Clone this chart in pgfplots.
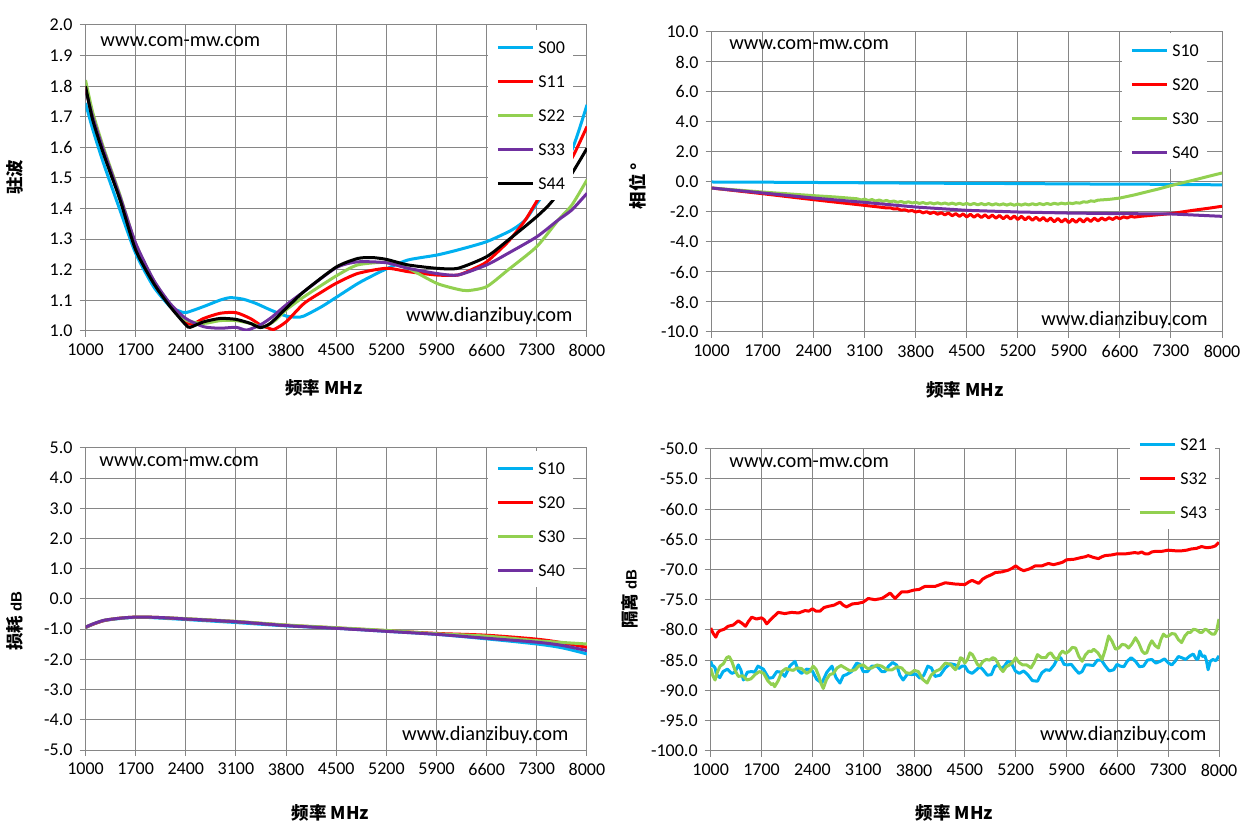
\documentclass[border=0pt]{standalone}
\usepackage{pgfplots}
\pgfplotsset{compat=1.18}
\usepackage{fontspec}
\setmainfont{Carlito}
\newfontfamily\cjk{Noto Sans CJK SC}
\newfontfamily\arl{Liberation Sans}
\definecolor{c1}{HTML}{00B0F0}
\definecolor{c2}{HTML}{FF0000}
\definecolor{c3}{HTML}{92D050}
\definecolor{c4}{HTML}{7030A0}
\definecolor{gridc}{HTML}{868686}
\newcommand{\wm}{\fontsize{10.2}{12}\selectfont}
\pgfplotsset{
  exc/.style={
    scale only axis,
    xmin=1000, xmax=8000,
    xtick={1000,1700,2400,3100,3800,4500,5200,5900,6600,7300,8000},
    grid=major,
    major grid style={draw=gridc, line width=0.5pt},
    axis line style={draw=gridc, line width=0.5pt},
    tick style={draw=gridc, line width=0.5pt},
    tick align=outside,
    major tick length=3pt,
    xtick pos=left, ytick pos=left,
    /pgf/number format/assume math mode=true,
    ticklabel style={font=\fontsize{9}{10}\selectfont, text=black},
    xticklabel style={/pgf/number format/1000 sep={}},
    yticklabel style={/pgf/number format/.cd, fixed, fixed zerofill, precision=1},
    legend cell align=left,
    legend style={draw=none, fill=white, inner xsep=4pt, inner ysep=0pt, row sep=0pt, column sep=2pt,
      font=\fontsize{9}{10}\selectfont, nodes={inner sep=0pt, text height=6pt, text depth=0pt, minimum height=17pt},
      anchor=north west},
    legend image code/.code={\draw[##1] (0pt,0pt) -- (17.5pt,0pt);},
    every axis plot/.append style={line width=1.5pt, mark=none, line join=round},
    xlabel style={font=\cjk\bfseries\fontsize{8.75}{10}\selectfont, anchor=center},
    ylabel style={font=\cjk\bfseries\fontsize{8.75}{10}\selectfont, anchor=center},
  }
}
\begin{document}
\begin{tikzpicture}
\path[use as bounding box] (0,0) rectangle (628.5pt,417.5pt);

% ---------------- top left: VSWR
\begin{axis}[exc,
  at={(42.75pt,405pt)}, anchor=north west,
  width=250.75pt, height=153pt,
  ymin=1, ymax=2,
  ytick={1.0,1.1,1.2,1.3,1.4,1.5,1.6,1.7,1.8,1.9,2.0},
  xlabel={频率 MHz}, xlabel style={at={(axis description cs:0.4756,-0.186)}},
  ylabel={驻波}, ylabel style={at={(axis description cs:-0.14,0.503)}},
  legend style={at={(axis description cs:0.8026,0.9837)}},
]
\addplot[c1, smooth, tension=0.4] coordinates {(1000,1.745) (1100,1.66) (1250,1.549) (1480,1.396) (1700,1.254) (1950,1.145) (2180,1.08) (2300,1.066) (2400,1.06) (2650,1.08) (2880,1.101) (3020,1.109) (3200,1.104) (3380,1.09) (3580,1.069) (3800,1.049) (3950,1.045) (4050,1.049) (4300,1.08) (4500,1.11) (4800,1.155) (5000,1.18) (5200,1.203) (5500,1.232) (5900,1.248) (6200,1.265) (6600,1.292) (6950,1.33) (7140,1.363) (7300,1.417) (7500,1.48) (7790,1.592) (8000,1.739)};
\addlegendentry{S00}
\addplot[c2, smooth, tension=0.4] coordinates {(1000,1.80) (1100,1.70) (1250,1.585) (1480,1.435) (1700,1.27) (1950,1.16) (2180,1.085) (2400,1.027) (2510,1.024) (2650,1.041) (2880,1.058) (3100,1.06) (3300,1.041) (3440,1.02) (3550,1.01) (3630,1.005) (3800,1.03) (4050,1.09) (4300,1.128) (4500,1.156) (4800,1.188) (5200,1.205) (5500,1.194) (5900,1.183) (6200,1.183) (6430,1.205) (6600,1.226) (6900,1.292) (7140,1.363) (7370,1.45) (7600,1.51) (7790,1.565) (8000,1.668)};
\addlegendentry{S11}
\addplot[c3, smooth, tension=0.4] coordinates {(1000,1.82) (1100,1.715) (1250,1.60) (1480,1.445) (1700,1.285) (1950,1.165) (2180,1.088) (2400,1.036) (2650,1.025) (2880,1.034) (3100,1.034) (3300,1.025) (3490,1.014) (3650,1.035) (3800,1.069) (4050,1.112) (4500,1.18) (4800,1.216) (5200,1.224) (5500,1.205) (5900,1.156) (6200,1.136) (6340,1.132) (6600,1.145) (6900,1.2) (7300,1.276) (7600,1.363) (7790,1.412) (8000,1.494)};
\addlegendentry{S22}
\addplot[c4, smooth, tension=0.4] coordinates {(1000,1.79) (1100,1.70) (1250,1.592) (1480,1.44) (1700,1.287) (1950,1.167) (2180,1.09) (2400,1.041) (2650,1.014) (2880,1.009) (3100,1.012) (3250,1.003) (3440,1.02) (3600,1.045) (3800,1.085) (4050,1.129) (4500,1.207) (4800,1.226) (5200,1.223) (5500,1.205) (5900,1.188) (6200,1.183) (6600,1.216) (6900,1.254) (7300,1.308) (7600,1.363) (7790,1.396) (8000,1.45)};
\addlegendentry{S33}
\addplot[black, smooth, tension=0.4] coordinates {(1000,1.80) (1100,1.69) (1250,1.58) (1480,1.43) (1700,1.265) (1950,1.156) (2180,1.08) (2400,1.02) (2460,1.012) (2650,1.03) (2880,1.041) (3100,1.038) (3300,1.025) (3440,1.011) (3580,1.025) (3800,1.074) (4050,1.129) (4500,1.209) (4800,1.237) (5000,1.24) (5200,1.234) (5500,1.216) (5900,1.205) (6200,1.205) (6600,1.243) (6900,1.297) (7300,1.374) (7510,1.423) (7790,1.515) (8000,1.597)};
\addlegendentry{S44}
\node[anchor=west, font=\wm, inner sep=0pt] at (axis description cs:0.029,0.944) {www.com-mw.com};
\node[anchor=east, font=\wm, inner sep=0pt] at (axis description cs:0.972,0.049) {www.dianzibuy.com};
\end{axis}

% ---------------- top right: phase
\begin{axis}[exc,
  at={(355.75pt,401.5pt)}, anchor=north west,
  width=255.25pt, height=150pt,
  ymin=-10, ymax=10,
  ytick={-10,-8,-6,-4,-2,0,2,4,6,8,10},
  xlabel={频率 MHz}, xlabel style={at={(axis description cs:0.4966,-0.193)}},
  ylabel={相位 °}, ylabel style={at={(axis description cs:-0.144,0.487)}},
  legend style={at={(axis description cs:0.804,0.997)}},
]
\addplot[c1] coordinates {(1000,0.0) (2000,-0.02) (3000,-0.05) (4000,-0.08) (5000,-0.1) (6000,-0.13) (7000,-0.15) (8000,-0.19)};
\addlegendentry{S10}
\addplot[c2] coordinates {(1000,-0.40) (1700,-0.78) (2400,-1.18) (3100,-1.56) (3300,-1.67) (3400,-1.73) (3450,-1.72) (3500,-1.80) (3550,-1.78) (3600,-1.88) (3650,-1.85) (3700,-1.94) (3750,-1.90) (3800,-2.00) (3850,-1.94) (3900,-2.06) (3950,-1.98) (4000,-2.10) (4050,-2.01) (4100,-2.15) (4150,-2.05) (4200,-2.19) (4250,-2.07) (4300,-2.25) (4350,-2.11) (4400,-2.29) (4450,-2.13) (4500,-2.33) (4550,-2.15) (4600,-2.35) (4650,-2.17) (4700,-2.37) (4750,-2.19) (4800,-2.39) (4850,-2.21) (4900,-2.41) (4950,-2.23) (5000,-2.45) (5050,-2.25) (5100,-2.47) (5150,-2.27) (5200,-2.50) (5250,-2.29) (5300,-2.52) (5350,-2.32) (5400,-2.55) (5450,-2.35) (5500,-2.57) (5550,-2.37) (5600,-2.61) (5650,-2.40) (5700,-2.65) (5750,-2.43) (5800,-2.67) (5850,-2.47) (5900,-2.71) (5950,-2.49) (6000,-2.69) (6050,-2.45) (6100,-2.67) (6150,-2.43) (6200,-2.63) (6250,-2.41) (6300,-2.59) (6350,-2.40) (6400,-2.54) (6450,-2.38) (6500,-2.50) (6550,-2.35) (6600,-2.45) (6650,-2.32) (6700,-2.40) (6750,-2.29) (6800,-2.34) (6900,-2.28) (7000,-2.24) (7150,-2.17) (7300,-2.11) (7450,-2.00) (7600,-1.89) (7800,-1.76) (8000,-1.62)};
\addlegendentry{S20}
\addplot[c3] coordinates {(1000,-0.40) (1700,-0.67) (2400,-0.91) (2700,-1.00) (3000,-1.12) (3050,-1.20) (3100,-1.14) (3150,-1.24) (3200,-1.17) (3250,-1.27) (3300,-1.20) (3350,-1.29) (3400,-1.23) (3450,-1.32) (3500,-1.27) (3550,-1.35) (3600,-1.30) (3650,-1.38) (3700,-1.32) (3750,-1.40) (3800,-1.35) (3850,-1.43) (3900,-1.37) (3950,-1.45) (4000,-1.38) (4050,-1.46) (4100,-1.39) (4150,-1.47) (4200,-1.40) (4250,-1.48) (4300,-1.41) (4350,-1.49) (4400,-1.42) (4450,-1.50) (4500,-1.43) (4550,-1.51) (4600,-1.43) (4650,-1.52) (4700,-1.44) (4750,-1.52) (4800,-1.44) (4850,-1.53) (4900,-1.45) (4950,-1.53) (5000,-1.46) (5050,-1.54) (5100,-1.46) (5150,-1.55) (5200,-1.47) (5250,-1.54) (5300,-1.46) (5350,-1.53) (5400,-1.45) (5450,-1.52) (5500,-1.44) (5550,-1.51) (5600,-1.43) (5650,-1.50) (5700,-1.42) (5750,-1.48) (5800,-1.41) (5850,-1.46) (5900,-1.40) (5950,-1.44) (6000,-1.38) (6050,-1.41) (6100,-1.32) (6150,-1.35) (6200,-1.26) (6250,-1.29) (6300,-1.21) (6450,-1.16) (6600,-1.07) (6800,-0.86) (7000,-0.62) (7150,-0.44) (7300,-0.24) (7450,-0.06) (7600,0.11) (7800,0.36) (8000,0.60)};
\addlegendentry{S30}
\addplot[c4] coordinates {(1000,-0.40) (1700,-0.73) (2400,-1.07) (3100,-1.36) (3800,-1.67) (4500,-1.89) (5200,-2.00) (5900,-2.07) (6600,-2.11) (7300,-2.13) (8000,-2.29)};
\addlegendentry{S40}
\node[anchor=west, font=\wm, inner sep=0pt] at (axis description cs:0.034,0.959) {www.com-mw.com};
\node[anchor=east, font=\wm, inner sep=0pt] at (axis description cs:0.9726,0.04) {www.dianzibuy.com};
\end{axis}

% ---------------- bottom left: loss
\begin{axis}[exc,
  at={(42.75pt,193.5pt)}, anchor=north west,
  width=250.75pt, height=151pt,
  ymin=-5, ymax=5,
  ytick={-5,-4,-3,-2,-1,0,1,2,3,4,5},
  xlabel={频率 MHz}, xlabel style={at={(axis description cs:0.4885,-0.2086)}},
  ylabel={损耗 {\arl\bfseries\fontsize{7.5}{9}\selectfont dB}}, ylabel style={at={(axis description cs:-0.1406,0.427)}},
  legend style={at={(axis description cs:0.8026,0.990)}},
]
\addplot[c1, smooth] coordinates {(1000,-0.95) (1110,-0.83) (1250,-0.72) (1390,-0.67) (1550,-0.63) (1700,-0.61) (1860,-0.61) (2100,-0.64) (2400,-0.68) (3100,-0.78) (3800,-0.89) (4500,-0.97) (5200,-1.07) (5900,-1.17) (6600,-1.32) (7300,-1.49) (7660,-1.62) (8000,-1.82)};
\addlegendentry{S10}
\addplot[c2, smooth] coordinates {(1000,-0.94) (1110,-0.83) (1250,-0.72) (1390,-0.66) (1550,-0.62) (1700,-0.60) (1860,-0.60) (2100,-0.62) (2400,-0.66) (3100,-0.75) (3800,-0.87) (4500,-0.96) (5200,-1.05) (5900,-1.14) (6600,-1.20) (7300,-1.33) (7660,-1.45) (8000,-1.60)};
\addlegendentry{S20}
\addplot[c3, smooth] coordinates {(1000,-0.93) (1110,-0.82) (1250,-0.71) (1390,-0.66) (1550,-0.62) (1700,-0.60) (1860,-0.60) (2100,-0.62) (2400,-0.65) (3100,-0.74) (3800,-0.86) (4500,-0.95) (5200,-1.04) (5900,-1.15) (6600,-1.23) (7300,-1.38) (7660,-1.44) (8000,-1.49)};
\addlegendentry{S30}
\addplot[c4, smooth] coordinates {(1000,-0.93) (1110,-0.82) (1250,-0.71) (1390,-0.66) (1550,-0.62) (1700,-0.60) (1860,-0.60) (2100,-0.62) (2400,-0.66) (3100,-0.75) (3800,-0.88) (4500,-0.97) (5200,-1.07) (5900,-1.17) (6600,-1.30) (7300,-1.43) (7660,-1.54) (8000,-1.71)};
\addlegendentry{S40}
\node[anchor=west, font=\wm, inner sep=0pt] at (axis description cs:0.027,0.955) {www.com-mw.com};
\node[anchor=east, font=\wm, inner sep=0pt] at (axis description cs:0.964,0.05) {www.dianzibuy.com};
\end{axis}

% ---------------- bottom right: isolation
\begin{axis}[exc,
  at={(355.35pt,193.15pt)}, anchor=north west,
  width=254.15pt, height=151pt,
  ymin=-100, ymax=-50,
  ytick={-100,-95,-90,-85,-80,-75,-70,-65,-60,-55,-50},
  xlabel={频率 MHz}, xlabel style={at={(axis description cs:0.4796,-0.206)}},
  ylabel={隔离 {\arl\bfseries\fontsize{7.5}{9}\selectfont dB}}, ylabel style={at={(axis description cs:-0.159,0.502)}},
  legend style={at={(axis description cs:0.825,1.072)}},
]
\addplot[c1] coordinates {(1000,-85.2) (1020,-85.9) (1040,-86.0) (1060,-86.3) (1080,-87.4) (1125,-87.9) (1170,-86.9) (1230,-86.5) (1290,-87.2) (1335,-87.0) (1380,-85.8) (1415,-86.6) (1450,-88.3) (1505,-87.0) (1560,-86.9) (1605,-87.0) (1650,-86.0) (1725,-86.5) (1800,-88.0) (1855,-87.9) (1910,-86.9) (1965,-87.0) (2020,-87.7) (2090,-86.0) (2160,-85.2) (2205,-86.7) (2250,-87.2) (2320,-86.5) (2390,-86.6) (2460,-88.2) (2530,-88.8) (2600,-87.0) (2670,-86.0) (2725,-87.9) (2780,-88.8) (2825,-87.6) (2870,-87.4) (2940,-86.9) (3010,-85.5) (3055,-85.7) (3100,-86.9) (3160,-86.9) (3220,-86.0) (3290,-86.0) (3355,-86.9) (3400,-86.9) (3450,-86.0) (3505,-85.4) (3560,-85.8) (3605,-87.5) (3650,-88.3) (3710,-87.3) (3770,-87.4) (3825,-87.3) (3880,-88.0) (3935,-87.5) (3990,-86.0) (4040,-86.3) (4090,-87.7) (4160,-87.5) (4230,-86.3) (4300,-85.6) (4370,-85.8) (4415,-86.4) (4460,-86.0) (4500,-86.0) (4545,-86.9) (4600,-87.2) (4660,-86.6) (4705,-86.1) (4750,-86.6) (4810,-87.5) (4865,-87.4) (4910,-86.1) (4955,-85.8) (5000,-86.4) (5045,-86.0) (5090,-85.2) (5140,-85.5) (5195,-86.8) (5250,-87.2) (5310,-86.8) (5365,-87.4) (5430,-88.4) (5500,-88.5) (5560,-87.1) (5615,-86.6) (5670,-86.7) (5730,-85.8) (5775,-84.7) (5820,-84.6) (5865,-85.7) (5910,-85.8) (5965,-85.7) (6025,-86.6) (6070,-87.2) (6115,-86.9) (6160,-85.8) (6210,-85.8) (6270,-85.9) (6325,-85.0) (6380,-85.0) (6435,-86.0) (6490,-86.8) (6550,-86.6) (6595,-85.7) (6640,-86.0) (6690,-86.1) (6735,-85.2) (6790,-84.6) (6850,-85.2) (6905,-86.1) (6960,-86.0) (7015,-85.0) (7075,-84.9) (7130,-85.5) (7190,-85.2) (7250,-84.8) (7305,-85.5) (7350,-85.8) (7395,-85.2) (7440,-84.4) (7485,-84.6) (7540,-84.9) (7600,-84.3) (7645,-84.0) (7690,-84.9) (7712,-84.8) (7735,-83.5) (7770,-84.4) (7805,-84.3) (7827,-85.1) (7850,-86.6) (7880,-85.2) (7915,-84.9) (7957,-85.1) (8000,-84.3)};
\addlegendentry{S21}
\addplot[c2] coordinates {(1000,-79.7) (1035,-80.6) (1070,-81.2) (1100,-80.4) (1130,-80.1) (1185,-79.9) (1240,-79.4) (1310,-79.2) (1380,-78.5) (1430,-78.9) (1480,-79.4) (1520,-78.6) (1565,-77.9) (1630,-78.2) (1700,-78.0) (1735,-78.3) (1770,-79.0) (1850,-78.0) (1930,-77.1) (2020,-77.3) (2115,-77.1) (2210,-77.2) (2300,-76.8) (2350,-76.9) (2400,-76.5) (2450,-76.9) (2505,-76.9) (2560,-76.3) (2620,-76.1) (2700,-75.9) (2780,-75.4) (2825,-75.9) (2870,-76.2) (2950,-75.7) (3030,-75.6) (3100,-75.4) (3170,-74.8) (3260,-75.0) (3355,-74.8) (3410,-74.4) (3470,-73.9) (3540,-74.8) (3630,-73.7) (3710,-73.7) (3800,-73.4) (3870,-73.3) (3950,-72.8) (4090,-72.8) (4230,-72.2) (4360,-72.4) (4500,-72.5) (4550,-72.1) (4600,-71.8) (4690,-72.3) (4745,-71.6) (4800,-71.2) (4860,-70.9) (4920,-70.5) (5010,-70.4) (5100,-70.1) (5150,-69.8) (5200,-69.4) (5255,-69.9) (5310,-70.2) (5390,-69.9) (5470,-69.4) (5560,-69.4) (5650,-69.0) (5720,-69.2) (5790,-69.0) (5845,-68.8) (5900,-68.4) (6005,-68.3) (6110,-68.0) (6155,-67.9) (6200,-67.7) (6270,-68.0) (6340,-68.2) (6385,-67.9) (6430,-67.7) (6515,-67.6) (6600,-67.4) (6720,-67.4) (6840,-67.2) (6890,-67.3) (6935,-67.1) (6980,-67.4) (7030,-67.4) (7075,-67.1) (7120,-67.0) (7210,-67.0) (7300,-66.8) (7395,-66.9) (7490,-66.9) (7555,-66.8) (7620,-66.6) (7690,-66.5) (7760,-66.2) (7830,-66.4) (7900,-66.3) (7950,-66.1) (8000,-65.5)};
\addlegendentry{S32}
\addplot[c3] coordinates {(1000,-86.3) (1030,-87.6) (1060,-88.3) (1095,-86.9) (1130,-86.0) (1175,-85.6) (1220,-84.6) (1255,-84.4) (1290,-85.2) (1335,-86.7) (1380,-87.7) (1440,-87.6) (1500,-88.3) (1555,-88.1) (1610,-87.4) (1670,-86.9) (1730,-87.2) (1785,-88.4) (1840,-89.1) (1860,-88.9) (1880,-89.4) (1930,-88.4) (1980,-86.9) (2035,-86.4) (2090,-86.6) (2137,-86.7) (2185,-86.3) (2250,-86.4) (2320,-87.2) (2365,-86.9) (2410,-86.0) (2450,-86.5) (2490,-87.7) (2520,-88.9) (2550,-89.7) (2595,-88.2) (2640,-87.4) (2690,-87.2) (2740,-86.3) (2795,-85.9) (2850,-86.3) (2920,-86.8) (2990,-86.6) (3045,-85.9) (3100,-85.8) (3160,-86.4) (3220,-86.3) (3290,-85.8) (3355,-86.0) (3430,-86.6) (3500,-86.6) (3565,-86.1) (3630,-86.3) (3690,-87.1) (3750,-87.2) (3805,-86.7) (3860,-86.9) (3920,-88.2) (3980,-88.8) (4035,-87.5) (4090,-86.9) (4160,-86.5) (4230,-85.5) (4300,-85.7) (4370,-86.6) (4405,-85.9) (4440,-84.6) (4470,-84.8) (4500,-85.5) (4535,-84.9) (4570,-83.8) (4605,-84.1) (4640,-84.9) (4672,-85.7) (4705,-86.0) (4750,-85.2) (4795,-84.9) (4840,-85.0) (4885,-84.6) (4920,-84.8) (4955,-85.5) (4990,-86.4) (5025,-86.9) (5070,-86.1) (5115,-85.8) (5157,-85.4) (5200,-84.6) (5247,-85.4) (5295,-85.8) (5352,-85.8) (5410,-86.3) (5455,-85.4) (5500,-84.1) (5557,-84.6) (5615,-84.6) (5650,-84.0) (5685,-83.8) (5730,-84.6) (5775,-84.9) (5810,-84.0) (5845,-83.5) (5890,-83.9) (5935,-83.5) (5980,-82.9) (6025,-83.0) (6070,-84.4) (6115,-85.2) (6162,-84.1) (6210,-83.5) (6242,-83.6) (6275,-83.2) (6332,-83.8) (6390,-84.9) (6435,-83.2) (6480,-81.0) (6527,-81.9) (6575,-83.2) (6620,-83.0) (6665,-82.4) (6710,-82.5) (6755,-83.0) (6802,-82.3) (6850,-81.3) (6895,-82.2) (6940,-83.5) (6972,-83.9) (7005,-83.8) (7040,-82.6) (7075,-81.8) (7120,-82.6) (7165,-83.0) (7200,-81.6) (7235,-80.7) (7270,-81.1) (7305,-81.0) (7350,-80.6) (7395,-80.7) (7440,-81.6) (7485,-82.1) (7530,-81.0) (7575,-80.4) (7610,-80.4) (7645,-79.9) (7690,-80.0) (7735,-80.4) (7770,-80.4) (7805,-79.9) (7837,-80.0) (7870,-80.4) (7905,-80.7) (7940,-80.7) (7970,-80.0) (8000,-78.2)};
\addlegendentry{S43}
\node[anchor=west, font=\wm, inner sep=0pt] at (axis description cs:0.036,0.955) {www.com-mw.com};
\node[anchor=east, font=\wm, inner sep=0pt] at (axis description cs:0.976,0.052) {www.dianzibuy.com};
\end{axis}
\end{tikzpicture}
\end{document}
